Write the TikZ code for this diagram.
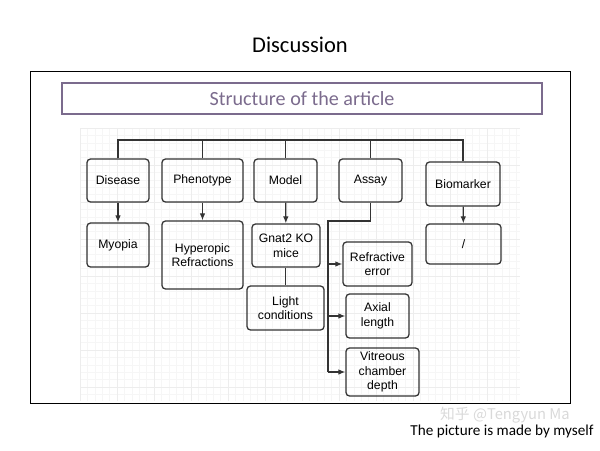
\documentclass[tikz,border=0pt]{standalone}
\usepackage{fontspec}
\setmainfont{Liberation Sans}
\newfontfamily\calibri{Carlito}
\newfontfamily\cjk{Noto Sans CJK SC}
\usetikzlibrary{arrows.meta}
\newlength\unitpx
\setlength\unitpx{0.025cm}
\definecolor{violetgris}{HTML}{7B6B8D}
\definecolor{trait}{HTML}{333333}
\tikzset{
  boite/.style={draw=trait, line width=0.9pt, rounded corners=2.5pt, align=center,
    font=\fontsize{8.7}{10.4}\selectfont, inner sep=1pt},
  lien/.style={draw=trait, line width=0.9pt},
  fleche/.style={lien, -{Latex[length=5pt,width=4pt]}}
}
\begin{document}
\begin{tikzpicture}[x=0.025cm, y=-0.025cm]
    \useasboundingbox (0,0) rectangle (600,450);

    % Titre
    \node[font=\calibri\fontsize{16}{19}\selectfont] (titre) at (300,45) {Discussion};

    % Cadre
    \draw[line width=0.6pt] (30,71) rectangle (570,403);
    \node[draw=violetgris, line width=1.4pt, minimum width=480\unitpx, minimum height=31\unitpx,
          text=violetgris, font=\calibri\fontsize{14.3}{17}\selectfont] (structure) at (302,98.5) {Structure of the article};

    % Quadrillage
    \foreach \gx in {80,87.4,...,521} \draw[gray!7, line width=0.4pt] (\gx,128) -- (\gx,401);
    \foreach \gy in {128,135.4,...,401} \draw[gray!7, line width=0.4pt] (80,\gy) -- (520,\gy);
    \foreach \gx in {80,117,...,521} \draw[gray!14, line width=0.5pt] (\gx,128) -- (\gx,401);
    \foreach \gy in {128,165,...,401} \draw[gray!14, line width=0.5pt] (80,\gy) -- (520,\gy);

    % Premiere rangee
    \node[boite, minimum width=62\unitpx, minimum height=43\unitpx] (disease) at (118,180.5) {Disease};
    \node[boite, minimum width=81\unitpx, minimum height=43\unitpx] (phenotype) at (202.5,180.5) {Phenotype};
    \node[boite, minimum width=63\unitpx, minimum height=43\unitpx] (model) at (285.5,180.5) {Model};
    \node[boite, minimum width=63\unitpx, minimum height=43\unitpx] (assay) at (370.5,180.5) {Assay};
    \node[boite, minimum width=74\unitpx, minimum height=44\unitpx] (biomarker) at (463,184) {Biomarker};

    % Deuxieme rangee
    \node[boite, minimum width=62\unitpx, minimum height=44\unitpx] (myopia) at (118,245) {Myopia};
    \node[boite, minimum width=81\unitpx, minimum height=68\unitpx] (hyperopic) at (202.5,255) {Hyperopic\\Refractions};
    \node[boite, minimum width=68\unitpx, minimum height=43\unitpx] (gnat) at (286,245.5) {Gnat2 KO\\mice};
    \node[boite, minimum width=77\unitpx, minimum height=44\unitpx] (light) at (285.5,308) {Light\\conditions};
    \node[boite, minimum width=69\unitpx, minimum height=44\unitpx] (refractive) at (377.5,264) {Refractive\\error};
    \node[boite, minimum width=63\unitpx, minimum height=44\unitpx] (axial) at (377.5,316) {Axial\\length};
    \node[boite, minimum width=73\unitpx, minimum height=48\unitpx] (vitreous) at (382.5,372) {Vitreous\\chamber\\depth};
    \node[boite, minimum width=75\unitpx, minimum height=40\unitpx] (slash) at (463.5,244) {/};

    % Barre du haut
    \coordinate (bus) at (0,140);
    \draw[lien] (disease.north) |- (biomarker.north |- bus) -- (biomarker.north);
    \foreach \n in {phenotype,model,assay} \draw[lien] (\n.north) -- (\n.north |- bus);

    % Fleches verticales
    \draw[fleche] (disease) -- (myopia);
    \draw[fleche] (phenotype) -- (hyperopic);
    \draw[fleche] (model) -- (gnat);
    \draw[fleche] (biomarker) -- (slash);
    \draw[lien] (gnat.south -| light.north) -- (light.north);

    % Branche de l'essai
    \coordinate (coude) at (328,221);
    \draw[lien] (assay.south) |- (coude) -- (coude |- vitreous.west);
    \foreach \n in {refractive,axial,vitreous} \draw[fleche] (coude |- \n.west) -- (\n.west);

    % Legende
    \node[text=gray!30, inner sep=0pt, font=\cjk\fontsize{10.5}{12}\selectfont] (filigrane) at (505,415) {知乎 @Tengyun Ma};
    \node[inner sep=0pt, font=\calibri\fontsize{10.8}{13}\selectfont] (legende) at (502,431) {The picture is made by myself};
\end{tikzpicture}
\end{document}
